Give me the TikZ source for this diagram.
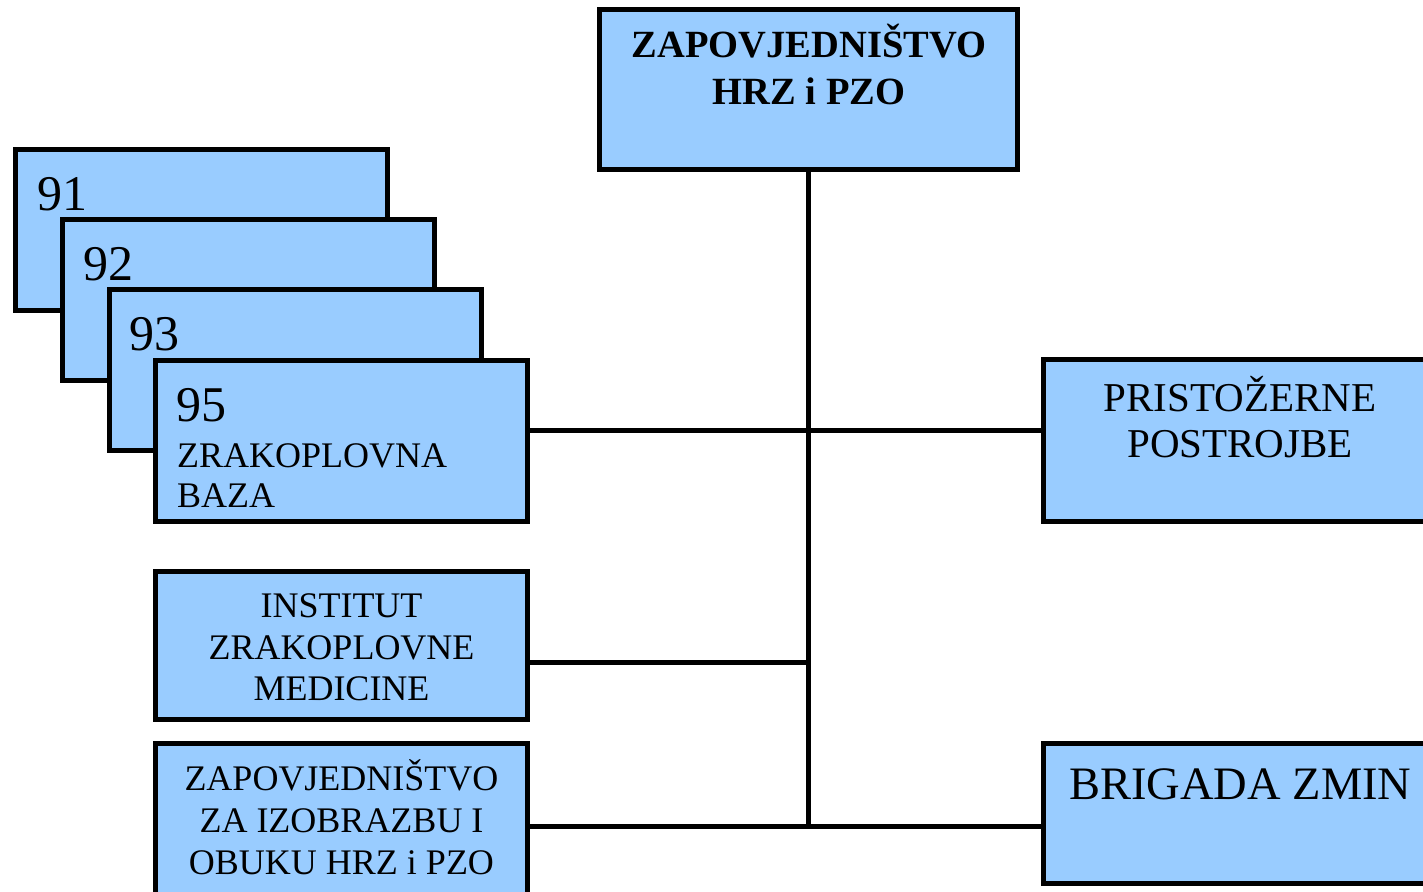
\documentclass[tikz,border=0pt]{standalone}
\usepackage{fontspec}
\setmainfont{Liberation Serif}
\definecolor{boxblue}{HTML}{99CCFF}
\tikzset{
  box/.style={draw=black, fill=boxblue, line width=5.5pt, rectangle, inner sep=0pt},
  conn/.style={draw=black, line width=5pt},
  lbl/.style={inner sep=0pt, text=black},
  fbig/.style={font=\fontsize{36}{42}\selectfont},
}
\begin{document}
\begin{tikzpicture}[x=1pt,y=-1pt]
\useasboundingbox (0,0) rectangle (1423,891);
\clip (0,0) rectangle (1423,891);
\fill[white] (0,0) rectangle (1423,891);
% boxes
\node[box, minimum width=418pt, minimum height=160pt] (top) at (808.5,89.5) {};
\node[box, minimum width=372pt, minimum height=161pt] (b91) at (201.5,230) {};
\node[box, minimum width=372pt, minimum height=161pt] (b92) at (248.5,300) {};
\node[box, minimum width=372pt, minimum height=161pt] (b93) at (295.5,370) {};
\node[box, minimum width=372pt, minimum height=161pt] (b95) at (341.5,441) {};
\node[box, minimum width=372pt, minimum height=148pt] (inst) at (341.5,645.5) {};
\node[box, minimum width=372pt, minimum height=161.5pt] (zap) at (341.5,824.25) {};
\node[box, minimum width=396.5pt, minimum height=162pt] (prist) at (1241.75,440.5) {};
\node[box, minimum width=396.5pt, minimum height=140pt] (brig) at (1241.75,813.5) {};
% junctions
\coordinate (j1) at (808.5,430);
\coordinate (j2) at (808.5,662);
\coordinate (j3) at (808.5,826);
% connectors
\draw[conn] (top.south) -- (j3);
\draw[conn] (b95.east |- j1) -- (prist.west |- j1);
\draw[conn] (inst.east |- j2) -- (j2);
\draw[conn] (zap.east |- j3) -- (brig.west |- j3);
% texts
\node[lbl, anchor=base, font=\fontsize{38.5}{46}\selectfont\bfseries] (tt1) at (809,58) {ZAPOVJEDNIŠTVO};
\node[lbl, anchor=base, font=\fontsize{38.5}{46}\selectfont\bfseries] (tt2) at (809,104) {HRZ i PZO};
\node[lbl, anchor=base west, font=\fontsize{50}{56}\selectfont] (t91) at (37,210) {91};
\node[lbl, anchor=base west, font=\fontsize{50}{56}\selectfont] (t92) at (83,280) {92};
\node[lbl, anchor=base west, font=\fontsize{50}{56}\selectfont] (t93) at (129,350) {93};
\node[lbl, anchor=base west, font=\fontsize{50}{56}\selectfont] (t95) at (176,421) {95};
\node[lbl, anchor=base west, fbig] (t95a) at (177,467) {ZRAKOPLOVNA};
\node[lbl, anchor=base west, fbig] (t95b) at (177,507) {BAZA};
\node[lbl, anchor=base, fbig] (ti1) at (341.5,617) {INSTITUT};
\node[lbl, anchor=base, fbig] (ti2) at (341.5,659) {ZRAKOPLOVNE};
\node[lbl, anchor=base, fbig] (ti3) at (341.5,700) {MEDICINE};
\node[lbl, anchor=base, fbig] (tz1) at (341.5,790) {ZAPOVJEDNIŠTVO};
\node[lbl, anchor=base, fbig] (tz2) at (341.5,832) {ZA IZOBRAZBU I};
\node[lbl, anchor=base, fbig] (tz3) at (341.5,874) {OBUKU HRZ i PZO};
\node[lbl, anchor=base, font=\fontsize{41}{46}\selectfont] (tp1) at (1240,411) {PRISTOŽERNE};
\node[lbl, anchor=base, font=\fontsize{41}{46}\selectfont] (tp2) at (1240,457) {POSTROJBE};
\node[lbl, anchor=base west, font=\fontsize{46.5}{52}\selectfont] (tb1) at (1069,799) {BRIGADA ZMIN};
\end{tikzpicture}
\end{document}
